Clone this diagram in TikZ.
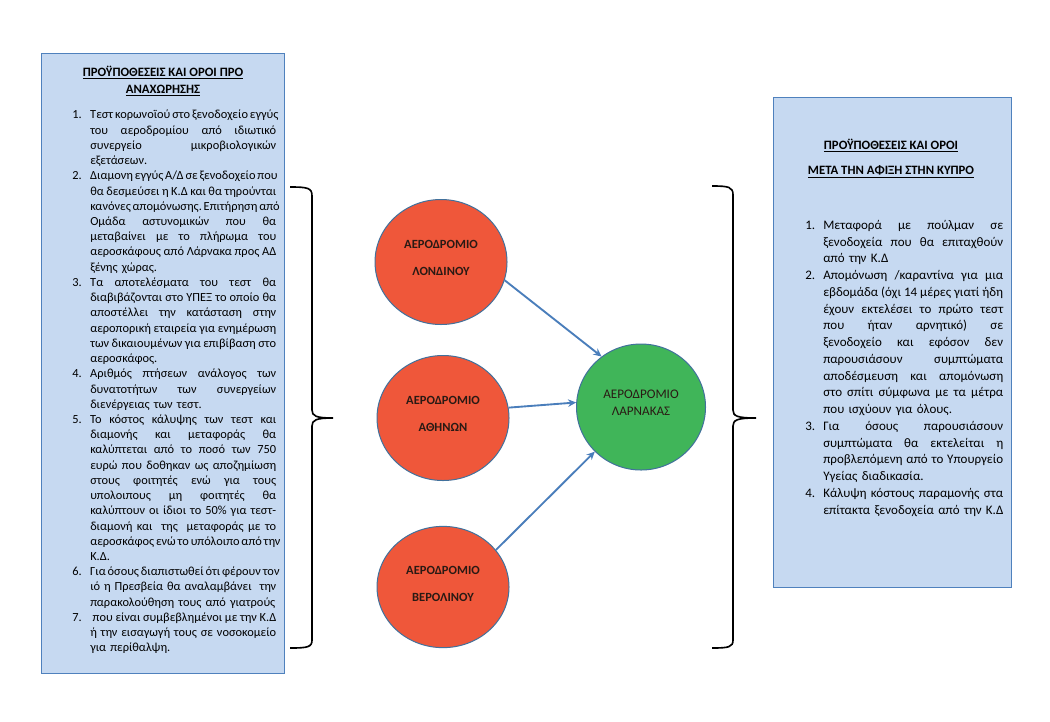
\documentclass[tikz,border=0pt]{standalone}
\usepackage{fontspec}
\setmainfont{Carlito}
\usetikzlibrary{arrows.meta,shapes.geometric}
\definecolor{boxfill}{HTML}{C6D9F1}
\definecolor{boxline}{HTML}{4F81BD}
\definecolor{redfill}{HTML}{EF573A}
\definecolor{greenfill}{HTML}{40B559}
\definecolor{circline}{HTML}{41719C}
\definecolor{arrowcol}{HTML}{4A7EBB}
\definecolor{darktext}{HTML}{2A1A14}
\newlength\hangw
\setlength\hangw{14.4pt}
\newcommand\jsp{\spaceskip=0.23em plus 1fill minus 0.08em\relax\xspaceskip=\spaceskip}
\newcommand\firstj[2]{\hbox to \hsize{\hbox to \hangw{#1\hfil}\jsp #2}}
\newcommand\midj[1]{\hbox to \hsize{\hskip\hangw\jsp #1}}
\newcommand\lastl[1]{\hbox{\hskip\hangw #1}}
\tikzset{
  infobox/.style={draw=boxline, fill=boxfill, line width=1pt, anchor=north west, inner sep=0pt},
  listtext/.style={anchor=north west, inner sep=0pt, text=black},
  titletext/.style={inner sep=0pt, align=center, font={\fontsize{10.2}{13}\selectfont\bfseries}},
  redc/.style={ellipse, draw=circline, fill=redfill, line width=0.8pt, minimum width=105.6pt, minimum height=100pt, inner sep=0pt},
  greenc/.style={ellipse, draw=circline, fill=greenfill, line width=0.8pt, minimum width=103.2pt, minimum height=100.8pt, inner sep=0pt},
  redtext/.style={inner sep=0pt, align=center, text=darktext, font={\fontsize{10}{12}\selectfont\bfseries}},
  greentext/.style={inner sep=0pt, align=center, text=darktext, font={\fontsize{10.5}{13.6}\selectfont}},
  flow/.style={draw=arrowcol, line width=1.5pt, -{Stealth[length=6.5pt,width=6pt]}},
  bracepath/.style={draw=black, line width=1.3pt},
}
\begin{document}
\begin{tikzpicture}[x=0.8pt,y=-0.8pt]
\useasboundingbox (0,0) rectangle (1050,721);
\fill[white] (0,0) rectangle (1050,721);

% boxes
\node[infobox, minimum width=194.4pt, minimum height=496pt] (leftbox) at (41,53) {};
\node[infobox, minimum width=190.4pt, minimum height=392pt] (rightbox) at (773,97) {};

% left title
\node[titletext] (lefttitle) at (163,81) {\underline{ΠΡΟΫΠΟΘΕΣΕΙΣ ΚΑΙ ΟΡΟΙ ΠΡΟ}\\\underline{ΑΝΑΧΩΡΗΣΗΣ}};

% left list
\node[listtext, text width=163.2pt, font={\fontsize{9.9}{12.18}\selectfont}] (leftlist) at (72,110) {%
\firstj{1.}{Τεστ κορωνοϊού στο ξενοδοχείο εγγύς}
\midj{του αεροδρομίου από ιδιωτικό}
\midj{συνεργείο μικροβιολογικών}
\lastl{εξετάσεων.}
\firstj{2.}{Διαμονη εγγύς Α/Δ σε ξενοδοχείο που}
\midj{θα δεσμεύσει η Κ.Δ και θα τηρούνται}
\midj{κανόνες απομόνωσης. Επιτήρηση από}
\midj{Ομάδα αστυνομικών που θα}
\midj{μεταβαίνει με το πλήρωμα του}
\midj{αεροσκάφους από Λάρνακα προς ΑΔ}
\lastl{ξένης χώρας.}
\firstj{3.}{Τα αποτελέσματα του τεστ θα}
\midj{διαβιβάζονται στο ΥΠΕΞ το οποίο θα}
\midj{αποστέλλει την κατάσταση στην}
\midj{αεροπορική εταιρεία για ενημέρωση}
\midj{των δικαιουμένων για επιβίβαση στο}
\lastl{αεροσκάφος.}
\firstj{4.}{Αριθμός πτήσεων ανάλογος των}
\midj{δυνατοτήτων των συνεργείων}
\lastl{διενέργειας των τεστ.}
\firstj{5.}{Το κόστος κάλυψης των τεστ και}
\midj{διαμονής και μεταφοράς θα}
\midj{καλύπτεται από το ποσό των 750}
\midj{ευρώ που δοθηκαν ως αποζημίωση}
\midj{στους φοιτητές ενώ για τους}
\midj{υπολοιπους μη φοιτητές θα}
\midj{καλύπτουν οι ίδιοι το 50\% για τεστ-}
\midj{διαμονή και\ \ της\ \ μεταφοράς με το}
\midj{αεροσκάφος ενώ το υπόλοιπο από την}
\lastl{Κ.Δ.}
\firstj{6.}{Για όσους διαπιστωθεί ότι φέρουν τον}
\midj{ιό η Πρεσβεία θα αναλαμβάνει\ \ την}
\lastl{παρακολούθηση τους από γιατρούς}
\firstj{7.}{\hspace{2pt}που είναι συμβεβλημένοι με την Κ.Δ}
\midj{ή την εισαγωγή τους σε νοσοκομείο}
\lastl{για περίθαλψη.}};

% right title
\node[titletext] (righttitle1) at (891,146) {\underline{ΠΡΟΫΠΟΘΕΣΕΙΣ ΚΑΙ ΟΡΟΙ}};
\node[titletext] (righttitle2) at (891,172) {\underline{ΜΕΤΑ ΤΗΝ ΑΦΙΞΗ ΣΤΗΝ ΚΥΠΡΟ}};

% right list
\node[listtext, text width=158.4pt, font={\fontsize{10.4}{13.4}\selectfont}] (rightlist) at (805,220) {%
\firstj{1.}{Μεταφορά με πούλμαν σε}
\midj{ξενοδοχεία που θα επιταχθούν}
\lastl{από την Κ.Δ}
\firstj{2.}{Απομόνωση /καραντίνα για μια}
\midj{εβδομάδα (όχι 14 μέρες γιατί ήδη}
\midj{έχουν εκτελέσει το πρώτο τεστ}
\midj{που ήταν αρνητικό) σε}
\midj{ξενοδοχείο και εφόσον δεν}
\midj{παρουσιάσουν συμπτώματα}
\midj{αποδέσμευση και απομόνωση}
\midj{στο σπίτι σύμφωνα με τα μέτρα}
\lastl{που ισχύουν για όλους.}
\firstj{3.}{Για όσους παρουσιάσουν}
\midj{συμπτώματα θα εκτελείται η}
\midj{προβλεπόμενη από το Υπουργείο}
\lastl{Υγείας διαδικασία.}
\firstj{4.}{Κάλυψη κόστους παραμονής στα}
\lastl{επίτακτα ξενοδοχεία από την Κ.Δ}};

% circles
\node[redc] (lon) at (441,262) {};
\node[redc] (ath) at (443,418) {};
\node[redc, minimum height=97pt] (ber) at (443,587) {};
\node[greenc] (lar) at (641,407) {};
\node[redtext] (lontext) at ([yshift=3.6pt]lon.center) {ΑΕΡΟΔΡΟΜΙΟ\\[9.6pt]ΛΟΝΔΙΝΟΥ};
\node[redtext] (athtext) at ([yshift=3.2pt]ath.center) {ΑΕΡΟΔΡΟΜΙΟ\\[9.6pt]ΑΘΗΝΩΝ};
\node[redtext] (bertext) at ([yshift=2.8pt]ber.center) {ΑΕΡΟΔΡΟΜΙΟ\\[9.6pt]ΒΕΡΟΛΙΝΟΥ};
\node[greentext] (lartext) at ([yshift=3.6pt]lar.center) {ΑΕΡΟΔΡΟΜΙΟ\\ΛΑΡΝΑΚΑΣ};

% arrows
\draw[flow] (lon.-16) -- (lar.128);
\draw[flow] (ath.9) -- (lar.176);
\draw[flow] (ber.35) -- (lar.224);

% braces
\coordinate (lbtop) at (290,187);
\coordinate (lbtip) at (333,418);
\coordinate (lbbot) at (290,648);
\draw[bracepath] (lbtop) .. controls (308,187) and (312,188) .. (312,196) -- (312,410)
  .. controls (312,416) and (316,418) .. (lbtip)
  .. controls (316,418) and (312,420) .. (312,426) -- (312,640)
  .. controls (312,647) and (308,648) .. (lbbot);
\coordinate (rbtop) at (712,186);
\coordinate (rbtip) at (756,418);
\coordinate (rbbot) at (712,648);
\draw[bracepath] (rbtop) .. controls (729,186) and (733,187) .. (733,195) -- (733,410)
  .. controls (733,416) and (737,418) .. (rbtip)
  .. controls (737,418) and (733,420) .. (733,426) -- (733,640)
  .. controls (733,647) and (729,648) .. (rbbot);
\end{tikzpicture}
\end{document}
